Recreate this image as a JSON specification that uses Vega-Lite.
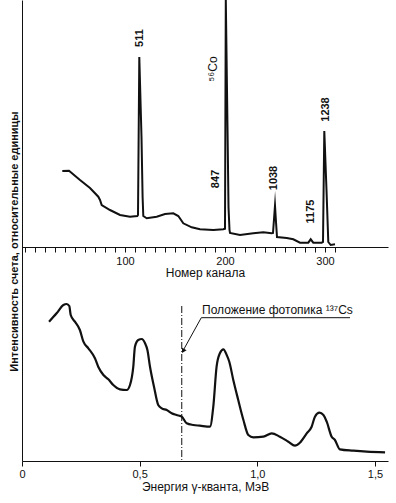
{
  "$schema": "https://vega.github.io/schema/vega-lite/v6.json",
  "width": 366,
  "height": 461,
  "autosize": {"type": "none"},
  "padding": {"left": 22, "top": 0, "right": 8, "bottom": 42},
  "background": "white",
  "config": {
    "view": {"stroke": null},
    "font": "Liberation Sans",
    "axis": {"grid": false, "domainColor": "#111", "tickColor": "#111", "labelColor": "#111", "titleColor": "#111", "labelFont": "Liberation Sans", "titleFont": "Liberation Sans", "titleFontWeight": "normal", "labelOverlap": false}
  },
  "datasets": {
    "channelSpectrum": [
      {"channel": 37.3, "count": 76}, {"channel": 44, "count": 76.3}, {"channel": 55, "count": 67}, {"channel": 65, "count": 59},
      {"channel": 73.3, "count": 50.3}, {"channel": 75, "count": 47}, {"channel": 76.7, "count": 42}, {"channel": 85, "count": 37},
      {"channel": 95, "count": 32}, {"channel": 105, "count": 30.3}, {"channel": 112.3, "count": 31}, {"channel": 113, "count": 32},
      {"channel": 114.3, "count": 190}, {"channel": 116.5, "count": 110}, {"channel": 117.6, "count": 50}, {"channel": 118.3, "count": 31},
      {"channel": 121.7, "count": 28.7}, {"channel": 131.7, "count": 30.3}, {"channel": 140, "count": 33}, {"channel": 148.3, "count": 33.7},
      {"channel": 153.3, "count": 31}, {"channel": 158.3, "count": 23.7}, {"channel": 166.7, "count": 19.7}, {"channel": 175, "count": 17.7},
      {"channel": 188.3, "count": 17}, {"channel": 198.3, "count": 17.7}, {"channel": 200, "count": 18.3}, {"channel": 200.8, "count": 247},
      {"channel": 202.5, "count": 120}, {"channel": 203.5, "count": 40}, {"channel": 204.5, "count": 17}, {"channel": 205, "count": 14},
      {"channel": 215, "count": 12}, {"channel": 228.3, "count": 13.7}, {"channel": 238.3, "count": 14.7}, {"channel": 246.7, "count": 13.7},
      {"channel": 248, "count": 14}, {"channel": 250, "count": 41.3}, {"channel": 251, "count": 25}, {"channel": 252, "count": 10},
      {"channel": 261.7, "count": 9}, {"channel": 268.3, "count": 7.7}, {"channel": 275, "count": 4.3}, {"channel": 283.3, "count": 4.3},
      {"channel": 285.7, "count": 7.7}, {"channel": 288.3, "count": 4.3}, {"channel": 296.7, "count": 4.3}, {"channel": 298, "count": 5},
      {"channel": 299.3, "count": 116}, {"channel": 301.5, "count": 57}, {"channel": 303.3, "count": 5}, {"channel": 305.7, "count": 2},
      {"channel": 310, "count": 2.7}
    ],
    "peakLabels": [
      {"label": "511", "channel": 114.5, "count": 209},
      {"label": "847", "channel": 191, "count": 68},
      {"label": "1038", "channel": 249, "count": 69},
      {"label": "1175", "channel": 286, "count": 35.5},
      {"label": "1238", "channel": 300.5, "count": 137.5}
    ],
    "energySpectrum": [
      {"energy": 0.115, "intensity": 139.3}, {"energy": 0.147, "intensity": 147.7}, {"energy": 0.176, "intensity": 156}, {"energy": 0.19, "intensity": 157},
      {"energy": 0.201, "intensity": 155}, {"energy": 0.207, "intensity": 146}, {"energy": 0.225, "intensity": 139.3}, {"energy": 0.246, "intensity": 131},
      {"energy": 0.261, "intensity": 119.3}, {"energy": 0.282, "intensity": 112.7}, {"energy": 0.31, "intensity": 102.7}, {"energy": 0.324, "intensity": 94.3},
      {"energy": 0.346, "intensity": 86}, {"energy": 0.367, "intensity": 81.7}, {"energy": 0.388, "intensity": 76}, {"energy": 0.416, "intensity": 71.7},
      {"energy": 0.445, "intensity": 71}, {"energy": 0.459, "intensity": 76}, {"energy": 0.473, "intensity": 94.3}, {"energy": 0.48, "intensity": 114.3},
      {"energy": 0.494, "intensity": 121}, {"energy": 0.509, "intensity": 122}, {"energy": 0.523, "intensity": 117.7}, {"energy": 0.533, "intensity": 111},
      {"energy": 0.544, "intensity": 94.3}, {"energy": 0.561, "intensity": 74.3}, {"energy": 0.579, "intensity": 56}, {"energy": 0.594, "intensity": 52.7},
      {"energy": 0.615, "intensity": 51}, {"energy": 0.636, "intensity": 47.7}, {"energy": 0.657, "intensity": 46}, {"energy": 0.679, "intensity": 44.3},
      {"energy": 0.7, "intensity": 37.7}, {"energy": 0.728, "intensity": 36}, {"energy": 0.756, "intensity": 35.3}, {"energy": 0.799, "intensity": 34.3},
      {"energy": 0.813, "intensity": 54.3}, {"energy": 0.827, "intensity": 94.3}, {"energy": 0.841, "intensity": 107.7}, {"energy": 0.856, "intensity": 111.7},
      {"energy": 0.87, "intensity": 106}, {"energy": 0.881, "intensity": 99.3}, {"energy": 0.898, "intensity": 81}, {"energy": 0.919, "intensity": 61},
      {"energy": 0.941, "intensity": 41}, {"energy": 0.962, "intensity": 26}, {"energy": 0.983, "intensity": 23.7}, {"energy": 1.026, "intensity": 24.3},
      {"energy": 1.061, "intensity": 27.7}, {"energy": 1.096, "intensity": 24.3}, {"energy": 1.132, "intensity": 19.3}, {"energy": 1.16, "intensity": 15.3},
      {"energy": 1.181, "intensity": 18.3}, {"energy": 1.21, "intensity": 27.7}, {"energy": 1.231, "intensity": 34.3}, {"energy": 1.245, "intensity": 44.3},
      {"energy": 1.264, "intensity": 48.3}, {"energy": 1.281, "intensity": 46}, {"energy": 1.295, "intensity": 39.3}, {"energy": 1.316, "intensity": 24.3},
      {"energy": 1.33, "intensity": 21}, {"energy": 1.351, "intensity": 11.7}, {"energy": 1.408, "intensity": 10.3}, {"energy": 1.465, "intensity": 9.3},
      {"energy": 1.543, "intensity": 8.7}
    ]
  },
  "layer": [
    {
      "data": {"name": "channelSpectrum"},
      "mark": {"type": "line", "color": "#111", "strokeWidth": 2, "strokeJoin": "miter", "strokeMiterLimit": 20},
      "encoding": {
        "x": {"field": "channel", "type": "quantitative", "scale": {"domain": [-3, 363], "nice": false, "zero": false},
          "axis": {"orient": "bottom", "offset": -214, "title": "Номер канала", "titleFontSize": 12, "titlePadding": 1,
            "values": [0,10,20,30,40,50,60,70,80,90,100,110,120,130,140,150,160,170,180,190,200,210,220,230,240,250,260,270,280,290,300,310],
            "labelExpr": "datum.value == 100 ? '100' : (datum.value == 200 ? '200' : (datum.value == 300 ? '300' : ''))",
            "labelFontSize": 11, "labelPadding": 3, "tickSize": 5, "labelFlush": false, "labelOverlap": false}},
        "y": {"field": "count", "type": "quantitative", "scale": {"domain": [-214, 247], "nice": false, "zero": false}, "axis": null}
      }
    },
    {
      "data": {"name": "peakLabels"},
      "mark": {"type": "text", "angle": 270, "align": "center", "baseline": "middle", "fontSize": 11, "fontWeight": "bold", "color": "#111"},
      "encoding": {
        "x": {"field": "channel", "type": "quantitative", "scale": {"domain": [-3, 363], "nice": false, "zero": false}, "axis": null},
        "y": {"field": "count", "type": "quantitative", "scale": {"domain": [-214, 247], "nice": false, "zero": false}, "axis": null},
        "text": {"field": "label"}
      }
    },
    {
      "data": {"values": [{"label": "⁵⁶Co", "channel": 188, "count": 178}]},
      "mark": {"type": "text", "angle": 270, "align": "center", "baseline": "middle", "fontSize": 12, "color": "#111"},
      "encoding": {
        "x": {"field": "channel", "type": "quantitative", "scale": {"domain": [-3, 363], "nice": false, "zero": false}, "axis": null},
        "y": {"field": "count", "type": "quantitative", "scale": {"domain": [-214, 247], "nice": false, "zero": false}, "axis": null},
        "text": {"field": "label"}
      }
    },
    {
      "data": {"name": "energySpectrum"},
      "mark": {"type": "line", "color": "#111", "strokeWidth": 2.2, "interpolate": "monotone"},
      "encoding": {
        "x": {"field": "energy", "type": "quantitative", "scale": {"domain": [0, 1.5555], "nice": false, "zero": false},
          "axis": {"orient": "bottom", "title": "Энергия γ-кванта, МэВ", "titleFontSize": 12, "titlePadding": 2,
            "values": [0, 0.5, 1, 1.5],
            "labelExpr": "datum.value === 0 ? '0' : replace(format(datum.value, '.1f'), '.', ',')",
            "labelFontSize": 11, "labelPadding": 2, "tickSize": 5, "labelFlush": false}},
        "y": {"field": "intensity", "type": "quantitative", "scale": {"domain": [0, 461], "nice": false, "zero": false},
          "axis": {"orient": "left", "title": "Интенсивность счета, относительные единицы", "ticks": false, "labels": false, "domain": true,
            "titleFontSize": 11, "titleFontWeight": "bold", "titleX": -5, "titleY": 241, "titleBaseline": "alphabetic", "titleAngle": 270, "titleAlign": "center"}}
      }
    },
    {
      "data": {"values": [{"energy": 0.679, "intensity": 155, "intensity_end": 0}]},
      "mark": {"type": "rule", "color": "#111", "strokeWidth": 1, "strokeDash": [7, 2, 1, 2]},
      "encoding": {
        "x": {"field": "energy", "type": "quantitative", "scale": {"domain": [0, 1.5555], "nice": false, "zero": false}, "axis": null},
        "y": {"field": "intensity", "type": "quantitative", "scale": {"domain": [0, 461], "nice": false, "zero": false}, "axis": null},
        "y2": {"field": "intensity_end"}
      }
    },
    {
      "data": {"values": [{"energy": 0.762, "energy_end": 1.394, "intensity": 143.3}]},
      "mark": {"type": "rule", "color": "#111", "strokeWidth": 1},
      "encoding": {
        "x": {"field": "energy", "type": "quantitative", "scale": {"domain": [0, 1.5555], "nice": false, "zero": false}, "axis": null},
        "x2": {"field": "energy_end"},
        "y": {"field": "intensity", "type": "quantitative", "scale": {"domain": [0, 461], "nice": false, "zero": false}, "axis": null}
      }
    },
    {
      "data": {"values": [{"energy": 0.762, "energy_end": 0.686, "intensity": 143.3, "intensity_end": 111}]},
      "mark": {"type": "rule", "color": "#111", "strokeWidth": 1},
      "encoding": {
        "x": {"field": "energy", "type": "quantitative", "scale": {"domain": [0, 1.5555], "nice": false, "zero": false}, "axis": null},
        "x2": {"field": "energy_end"},
        "y": {"field": "intensity", "type": "quantitative", "scale": {"domain": [0, 461], "nice": false, "zero": false}, "axis": null},
        "y2": {"field": "intensity_end"}
      }
    },
    {
      "data": {"values": [{"energy": 0.685, "intensity": 110}]},
      "mark": {"type": "point", "shape": "triangle-up", "angle": 209, "size": 28, "filled": true, "color": "#111", "opacity": 1},
      "encoding": {
        "x": {"field": "energy", "type": "quantitative", "scale": {"domain": [0, 1.5555], "nice": false, "zero": false}, "axis": null},
        "y": {"field": "intensity", "type": "quantitative", "scale": {"domain": [0, 461], "nice": false, "zero": false}, "axis": null}
      }
    },
    {
      "data": {"values": [{"energy": 0.765, "intensity": 151, "label": "Положение фотопика ¹³⁷Cs"}]},
      "mark": {"type": "text", "align": "left", "baseline": "middle", "fontSize": 12, "color": "#111"},
      "encoding": {
        "x": {"field": "energy", "type": "quantitative", "scale": {"domain": [0, 1.5555], "nice": false, "zero": false}, "axis": null},
        "y": {"field": "intensity", "type": "quantitative", "scale": {"domain": [0, 461], "nice": false, "zero": false}, "axis": null},
        "text": {"field": "label"}
      }
    }
  ],
  "resolve": {"scale": {"x": "independent", "y": "independent"}, "axis": {"x": "independent", "y": "independent"}}
}
